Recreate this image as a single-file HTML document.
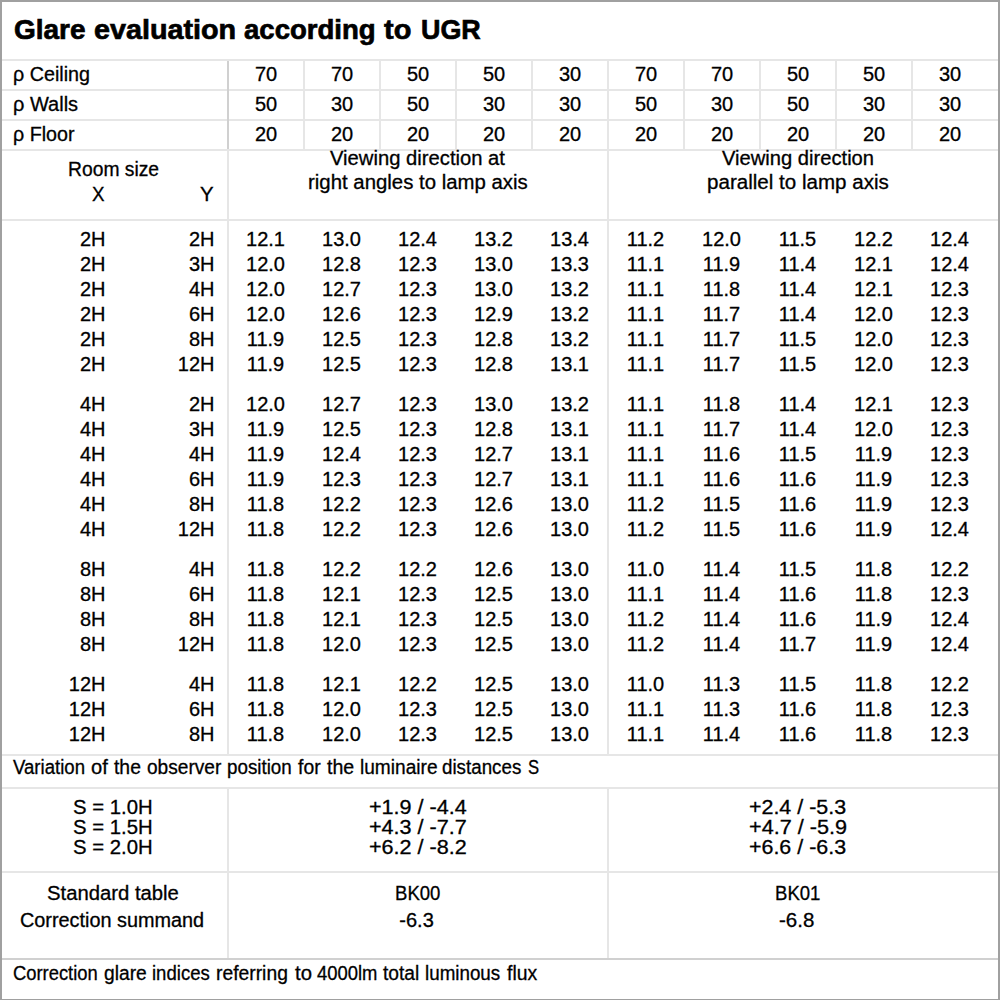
<!DOCTYPE html>
<html><head><meta charset="utf-8"><style>
html,body{margin:0;padding:0;background:#fff;}
body{width:1000px;height:1000px;position:relative;overflow:hidden;font-family:"Liberation Sans",sans-serif;color:#000;}
.ln{position:absolute;}
.t{position:absolute;white-space:nowrap;transform-origin:0 0;-webkit-text-stroke:0.3px #000;}
.bt{position:absolute;left:0;top:0;width:1000px;height:2px;background:#a0a0a0}
.bl{position:absolute;left:0;top:0;width:2px;height:1000px;background:#a0a0a0}
.br{position:absolute;left:998px;top:0;width:2px;height:1000px;background:#a0a0a0}
.bb{position:absolute;left:0;top:999px;width:1000px;height:1px;background:#a0a0a0}
</style></head><body>
<div class="ln" style="left:2px;top:59px;width:996px;height:2px;background:#e6e6e6"></div><div class="ln" style="left:2px;top:89px;width:996px;height:2px;background:#e6e6e6"></div><div class="ln" style="left:2px;top:119px;width:996px;height:2px;background:#e6e6e6"></div><div class="ln" style="left:2px;top:149px;width:996px;height:2px;background:#e6e6e6"></div><div class="ln" style="left:2px;top:219px;width:996px;height:2px;background:#e6e6e6"></div><div class="ln" style="left:2px;top:754px;width:996px;height:2px;background:#e6e6e6"></div><div class="ln" style="left:2px;top:787px;width:996px;height:2px;background:#e6e6e6"></div><div class="ln" style="left:2px;top:871px;width:996px;height:2px;background:#e6e6e6"></div><div class="ln" style="left:2px;top:958px;width:996px;height:2px;background:#d0d0d0"></div><div class="ln" style="left:227px;top:61px;width:2px;height:88px;background:#d0d0d0"></div><div class="ln" style="left:227px;top:151px;width:2px;height:603px;background:#e6e6e6"></div><div class="ln" style="left:607px;top:151px;width:2px;height:603px;background:#e6e6e6"></div><div class="ln" style="left:303px;top:61px;width:2px;height:88px;background:#e6e6e6"></div><div class="ln" style="left:379px;top:61px;width:2px;height:88px;background:#e6e6e6"></div><div class="ln" style="left:455px;top:61px;width:2px;height:88px;background:#e6e6e6"></div><div class="ln" style="left:531px;top:61px;width:2px;height:88px;background:#e6e6e6"></div><div class="ln" style="left:607px;top:61px;width:2px;height:88px;background:#e6e6e6"></div><div class="ln" style="left:683px;top:61px;width:2px;height:88px;background:#e6e6e6"></div><div class="ln" style="left:759px;top:61px;width:2px;height:88px;background:#e6e6e6"></div><div class="ln" style="left:835px;top:61px;width:2px;height:88px;background:#e6e6e6"></div><div class="ln" style="left:911px;top:61px;width:2px;height:88px;background:#e6e6e6"></div><div class="ln" style="left:227px;top:789px;width:2px;height:169px;background:#e6e6e6"></div><div class="ln" style="left:607px;top:789px;width:2px;height:169px;background:#e6e6e6"></div>
<div class="bt"></div><div class="bl"></div><div class="br"></div><div class="bb"></div>
<div class="t" id="title0" style="left:13.99px;top:16px;font-size:28px;line-height:28px;font-weight:bold;-webkit-text-stroke:0.7px #000;">Glare</div>
<div class="t" id="title1" style="left:93.78px;transform:scaleX(1.0266);top:16px;font-size:28px;line-height:28px;font-weight:bold;-webkit-text-stroke:0.7px #000;">evaluation</div>
<div class="t" id="title2" style="left:244.42px;transform:scaleX(0.984);top:16px;font-size:28px;line-height:28px;font-weight:bold;-webkit-text-stroke:0.7px #000;">according</div>
<div class="t" id="title3" style="left:384.26px;transform:scaleX(1.0343);top:16px;font-size:28px;line-height:28px;font-weight:bold;-webkit-text-stroke:0.7px #000;">to</div>
<div class="t" id="title4" style="left:420.84px;transform:scaleX(0.9609);top:16px;font-size:28px;line-height:28px;font-weight:bold;-webkit-text-stroke:0.7px #000;">UGR</div>
<div class="t" id="rc" style="left:13.01px;transform:scaleX(0.9868);top:64px;font-size:20px;line-height:20px;">ρ Ceiling</div>
<div class="t" id="rw" style="left:13.0px;top:94px;font-size:20px;line-height:20px;">ρ Walls</div>
<div class="t" id="rf" style="left:13.02px;transform:scaleX(0.9845);top:124px;font-size:20px;line-height:20px;">ρ Floor</div>
<div class="t" id="k8" style="left:254.88px;top:64px;font-size:20px;line-height:20px;">70</div>
<div class="t" id="k9" style="left:330.88px;top:64px;font-size:20px;line-height:20px;">70</div>
<div class="t" id="k10" style="left:406.88px;top:64px;font-size:20px;line-height:20px;">50</div>
<div class="t" id="k11" style="left:482.88px;top:64px;font-size:20px;line-height:20px;">50</div>
<div class="t" id="k12" style="left:558.88px;top:64px;font-size:20px;line-height:20px;">30</div>
<div class="t" id="k13" style="left:634.88px;top:64px;font-size:20px;line-height:20px;">70</div>
<div class="t" id="k14" style="left:710.88px;top:64px;font-size:20px;line-height:20px;">70</div>
<div class="t" id="k15" style="left:786.88px;top:64px;font-size:20px;line-height:20px;">50</div>
<div class="t" id="k16" style="left:862.88px;top:64px;font-size:20px;line-height:20px;">50</div>
<div class="t" id="k17" style="left:938.88px;top:64px;font-size:20px;line-height:20px;">30</div>
<div class="t" id="k18" style="left:254.88px;top:94px;font-size:20px;line-height:20px;">50</div>
<div class="t" id="k19" style="left:330.88px;top:94px;font-size:20px;line-height:20px;">30</div>
<div class="t" id="k20" style="left:406.88px;top:94px;font-size:20px;line-height:20px;">50</div>
<div class="t" id="k21" style="left:482.88px;top:94px;font-size:20px;line-height:20px;">30</div>
<div class="t" id="k22" style="left:558.88px;top:94px;font-size:20px;line-height:20px;">30</div>
<div class="t" id="k23" style="left:634.88px;top:94px;font-size:20px;line-height:20px;">50</div>
<div class="t" id="k24" style="left:710.88px;top:94px;font-size:20px;line-height:20px;">30</div>
<div class="t" id="k25" style="left:786.88px;top:94px;font-size:20px;line-height:20px;">50</div>
<div class="t" id="k26" style="left:862.88px;top:94px;font-size:20px;line-height:20px;">30</div>
<div class="t" id="k27" style="left:938.88px;top:94px;font-size:20px;line-height:20px;">30</div>
<div class="t" id="k28" style="left:254.88px;top:124px;font-size:20px;line-height:20px;">20</div>
<div class="t" id="k29" style="left:330.88px;top:124px;font-size:20px;line-height:20px;">20</div>
<div class="t" id="k30" style="left:406.88px;top:124px;font-size:20px;line-height:20px;">20</div>
<div class="t" id="k31" style="left:482.88px;top:124px;font-size:20px;line-height:20px;">20</div>
<div class="t" id="k32" style="left:558.88px;top:124px;font-size:20px;line-height:20px;">20</div>
<div class="t" id="k33" style="left:634.88px;top:124px;font-size:20px;line-height:20px;">20</div>
<div class="t" id="k34" style="left:710.88px;top:124px;font-size:20px;line-height:20px;">20</div>
<div class="t" id="k35" style="left:786.88px;top:124px;font-size:20px;line-height:20px;">20</div>
<div class="t" id="k36" style="left:862.88px;top:124px;font-size:20px;line-height:20px;">20</div>
<div class="t" id="k37" style="left:938.88px;top:124px;font-size:20px;line-height:20px;">20</div>
<div class="t" id="room" style="left:67.62px;transform:scaleX(0.9643);top:159px;font-size:20px;line-height:20px;">Room size</div>
<div class="t" id="hx" style="left:91.73px;transform:scaleX(0.9387);top:184px;font-size:20px;line-height:20px;">X</div>
<div class="t" id="hy" style="left:199.87px;transform:scaleX(1.0216);top:184px;font-size:20px;line-height:20px;">Y</div>
<div class="t" id="v1" style="left:330.15px;transform:scaleX(1.0111);top:148px;font-size:20px;line-height:20px;">Viewing direction at</div>
<div class="t" id="v2" style="left:308.14px;transform:scaleX(1.0187);top:172px;font-size:20px;line-height:20px;">right angles to lamp axis</div>
<div class="t" id="v3" style="left:722.37px;transform:scaleX(1.008);top:148px;font-size:20px;line-height:20px;">Viewing direction</div>
<div class="t" id="v4" style="left:706.59px;transform:scaleX(1.0286);top:172px;font-size:20px;line-height:20px;">parallel to lamp axis</div>
<div class="t" id="k45" style="left:79.92px;top:229px;font-size:20px;line-height:20px;">2H</div>
<div class="t" id="k46" style="left:188.92px;top:229px;font-size:20px;line-height:20px;">2H</div>
<div class="t" id="k47" style="left:246.03px;top:229px;font-size:20px;line-height:20px;">12.1</div>
<div class="t" id="k48" style="left:322.03px;top:229px;font-size:20px;line-height:20px;">13.0</div>
<div class="t" id="k49" style="left:398.03px;top:229px;font-size:20px;line-height:20px;">12.4</div>
<div class="t" id="k50" style="left:474.03px;top:229px;font-size:20px;line-height:20px;">13.2</div>
<div class="t" id="k51" style="left:550.03px;top:229px;font-size:20px;line-height:20px;">13.4</div>
<div class="t" id="k52" style="left:626.77px;top:229px;font-size:20px;line-height:20px;">11.2</div>
<div class="t" id="k53" style="left:702.03px;top:229px;font-size:20px;line-height:20px;">12.0</div>
<div class="t" id="k54" style="left:778.77px;top:229px;font-size:20px;line-height:20px;">11.5</div>
<div class="t" id="k55" style="left:854.03px;top:229px;font-size:20px;line-height:20px;">12.2</div>
<div class="t" id="k56" style="left:930.03px;top:229px;font-size:20px;line-height:20px;">12.4</div>
<div class="t" id="k57" style="left:79.92px;top:254px;font-size:20px;line-height:20px;">2H</div>
<div class="t" id="k58" style="left:188.92px;top:254px;font-size:20px;line-height:20px;">3H</div>
<div class="t" id="k59" style="left:246.03px;top:254px;font-size:20px;line-height:20px;">12.0</div>
<div class="t" id="k60" style="left:322.03px;top:254px;font-size:20px;line-height:20px;">12.8</div>
<div class="t" id="k61" style="left:398.03px;top:254px;font-size:20px;line-height:20px;">12.3</div>
<div class="t" id="k62" style="left:474.03px;top:254px;font-size:20px;line-height:20px;">13.0</div>
<div class="t" id="k63" style="left:550.03px;top:254px;font-size:20px;line-height:20px;">13.3</div>
<div class="t" id="k64" style="left:626.77px;top:254px;font-size:20px;line-height:20px;">11.1</div>
<div class="t" id="k65" style="left:702.77px;top:254px;font-size:20px;line-height:20px;">11.9</div>
<div class="t" id="k66" style="left:778.77px;top:254px;font-size:20px;line-height:20px;">11.4</div>
<div class="t" id="k67" style="left:854.03px;top:254px;font-size:20px;line-height:20px;">12.1</div>
<div class="t" id="k68" style="left:930.03px;top:254px;font-size:20px;line-height:20px;">12.4</div>
<div class="t" id="k69" style="left:79.92px;top:279px;font-size:20px;line-height:20px;">2H</div>
<div class="t" id="k70" style="left:188.92px;top:279px;font-size:20px;line-height:20px;">4H</div>
<div class="t" id="k71" style="left:246.03px;top:279px;font-size:20px;line-height:20px;">12.0</div>
<div class="t" id="k72" style="left:322.03px;top:279px;font-size:20px;line-height:20px;">12.7</div>
<div class="t" id="k73" style="left:398.03px;top:279px;font-size:20px;line-height:20px;">12.3</div>
<div class="t" id="k74" style="left:474.03px;top:279px;font-size:20px;line-height:20px;">13.0</div>
<div class="t" id="k75" style="left:550.03px;top:279px;font-size:20px;line-height:20px;">13.2</div>
<div class="t" id="k76" style="left:626.77px;top:279px;font-size:20px;line-height:20px;">11.1</div>
<div class="t" id="k77" style="left:702.77px;top:279px;font-size:20px;line-height:20px;">11.8</div>
<div class="t" id="k78" style="left:778.77px;top:279px;font-size:20px;line-height:20px;">11.4</div>
<div class="t" id="k79" style="left:854.03px;top:279px;font-size:20px;line-height:20px;">12.1</div>
<div class="t" id="k80" style="left:930.03px;top:279px;font-size:20px;line-height:20px;">12.3</div>
<div class="t" id="k81" style="left:79.92px;top:304px;font-size:20px;line-height:20px;">2H</div>
<div class="t" id="k82" style="left:188.92px;top:304px;font-size:20px;line-height:20px;">6H</div>
<div class="t" id="k83" style="left:246.03px;top:304px;font-size:20px;line-height:20px;">12.0</div>
<div class="t" id="k84" style="left:322.03px;top:304px;font-size:20px;line-height:20px;">12.6</div>
<div class="t" id="k85" style="left:398.03px;top:304px;font-size:20px;line-height:20px;">12.3</div>
<div class="t" id="k86" style="left:474.03px;top:304px;font-size:20px;line-height:20px;">12.9</div>
<div class="t" id="k87" style="left:550.03px;top:304px;font-size:20px;line-height:20px;">13.2</div>
<div class="t" id="k88" style="left:626.77px;top:304px;font-size:20px;line-height:20px;">11.1</div>
<div class="t" id="k89" style="left:702.77px;top:304px;font-size:20px;line-height:20px;">11.7</div>
<div class="t" id="k90" style="left:778.77px;top:304px;font-size:20px;line-height:20px;">11.4</div>
<div class="t" id="k91" style="left:854.03px;top:304px;font-size:20px;line-height:20px;">12.0</div>
<div class="t" id="k92" style="left:930.03px;top:304px;font-size:20px;line-height:20px;">12.3</div>
<div class="t" id="k93" style="left:79.92px;top:329px;font-size:20px;line-height:20px;">2H</div>
<div class="t" id="k94" style="left:188.92px;top:329px;font-size:20px;line-height:20px;">8H</div>
<div class="t" id="k95" style="left:246.77px;top:329px;font-size:20px;line-height:20px;">11.9</div>
<div class="t" id="k96" style="left:322.03px;top:329px;font-size:20px;line-height:20px;">12.5</div>
<div class="t" id="k97" style="left:398.03px;top:329px;font-size:20px;line-height:20px;">12.3</div>
<div class="t" id="k98" style="left:474.03px;top:329px;font-size:20px;line-height:20px;">12.8</div>
<div class="t" id="k99" style="left:550.03px;top:329px;font-size:20px;line-height:20px;">13.2</div>
<div class="t" id="k100" style="left:626.77px;top:329px;font-size:20px;line-height:20px;">11.1</div>
<div class="t" id="k101" style="left:702.77px;top:329px;font-size:20px;line-height:20px;">11.7</div>
<div class="t" id="k102" style="left:778.77px;top:329px;font-size:20px;line-height:20px;">11.5</div>
<div class="t" id="k103" style="left:854.03px;top:329px;font-size:20px;line-height:20px;">12.0</div>
<div class="t" id="k104" style="left:930.03px;top:329px;font-size:20px;line-height:20px;">12.3</div>
<div class="t" id="k105" style="left:79.92px;top:354px;font-size:20px;line-height:20px;">2H</div>
<div class="t" id="k106" style="left:177.8px;top:354px;font-size:20px;line-height:20px;">12H</div>
<div class="t" id="k107" style="left:246.77px;top:354px;font-size:20px;line-height:20px;">11.9</div>
<div class="t" id="k108" style="left:322.03px;top:354px;font-size:20px;line-height:20px;">12.5</div>
<div class="t" id="k109" style="left:398.03px;top:354px;font-size:20px;line-height:20px;">12.3</div>
<div class="t" id="k110" style="left:474.03px;top:354px;font-size:20px;line-height:20px;">12.8</div>
<div class="t" id="k111" style="left:550.03px;top:354px;font-size:20px;line-height:20px;">13.1</div>
<div class="t" id="k112" style="left:626.77px;top:354px;font-size:20px;line-height:20px;">11.1</div>
<div class="t" id="k113" style="left:702.77px;top:354px;font-size:20px;line-height:20px;">11.7</div>
<div class="t" id="k114" style="left:778.77px;top:354px;font-size:20px;line-height:20px;">11.5</div>
<div class="t" id="k115" style="left:854.03px;top:354px;font-size:20px;line-height:20px;">12.0</div>
<div class="t" id="k116" style="left:930.03px;top:354px;font-size:20px;line-height:20px;">12.3</div>
<div class="t" id="k117" style="left:79.92px;top:394px;font-size:20px;line-height:20px;">4H</div>
<div class="t" id="k118" style="left:188.92px;top:394px;font-size:20px;line-height:20px;">2H</div>
<div class="t" id="k119" style="left:246.03px;top:394px;font-size:20px;line-height:20px;">12.0</div>
<div class="t" id="k120" style="left:322.03px;top:394px;font-size:20px;line-height:20px;">12.7</div>
<div class="t" id="k121" style="left:398.03px;top:394px;font-size:20px;line-height:20px;">12.3</div>
<div class="t" id="k122" style="left:474.03px;top:394px;font-size:20px;line-height:20px;">13.0</div>
<div class="t" id="k123" style="left:550.03px;top:394px;font-size:20px;line-height:20px;">13.2</div>
<div class="t" id="k124" style="left:626.77px;top:394px;font-size:20px;line-height:20px;">11.1</div>
<div class="t" id="k125" style="left:702.77px;top:394px;font-size:20px;line-height:20px;">11.8</div>
<div class="t" id="k126" style="left:778.77px;top:394px;font-size:20px;line-height:20px;">11.4</div>
<div class="t" id="k127" style="left:854.03px;top:394px;font-size:20px;line-height:20px;">12.1</div>
<div class="t" id="k128" style="left:930.03px;top:394px;font-size:20px;line-height:20px;">12.3</div>
<div class="t" id="k129" style="left:79.92px;top:419px;font-size:20px;line-height:20px;">4H</div>
<div class="t" id="k130" style="left:188.92px;top:419px;font-size:20px;line-height:20px;">3H</div>
<div class="t" id="k131" style="left:246.77px;top:419px;font-size:20px;line-height:20px;">11.9</div>
<div class="t" id="k132" style="left:322.03px;top:419px;font-size:20px;line-height:20px;">12.5</div>
<div class="t" id="k133" style="left:398.03px;top:419px;font-size:20px;line-height:20px;">12.3</div>
<div class="t" id="k134" style="left:474.03px;top:419px;font-size:20px;line-height:20px;">12.8</div>
<div class="t" id="k135" style="left:550.03px;top:419px;font-size:20px;line-height:20px;">13.1</div>
<div class="t" id="k136" style="left:626.77px;top:419px;font-size:20px;line-height:20px;">11.1</div>
<div class="t" id="k137" style="left:702.77px;top:419px;font-size:20px;line-height:20px;">11.7</div>
<div class="t" id="k138" style="left:778.77px;top:419px;font-size:20px;line-height:20px;">11.4</div>
<div class="t" id="k139" style="left:854.03px;top:419px;font-size:20px;line-height:20px;">12.0</div>
<div class="t" id="k140" style="left:930.03px;top:419px;font-size:20px;line-height:20px;">12.3</div>
<div class="t" id="k141" style="left:79.92px;top:444px;font-size:20px;line-height:20px;">4H</div>
<div class="t" id="k142" style="left:188.92px;top:444px;font-size:20px;line-height:20px;">4H</div>
<div class="t" id="k143" style="left:246.77px;top:444px;font-size:20px;line-height:20px;">11.9</div>
<div class="t" id="k144" style="left:322.03px;top:444px;font-size:20px;line-height:20px;">12.4</div>
<div class="t" id="k145" style="left:398.03px;top:444px;font-size:20px;line-height:20px;">12.3</div>
<div class="t" id="k146" style="left:474.03px;top:444px;font-size:20px;line-height:20px;">12.7</div>
<div class="t" id="k147" style="left:550.03px;top:444px;font-size:20px;line-height:20px;">13.1</div>
<div class="t" id="k148" style="left:626.77px;top:444px;font-size:20px;line-height:20px;">11.1</div>
<div class="t" id="k149" style="left:702.77px;top:444px;font-size:20px;line-height:20px;">11.6</div>
<div class="t" id="k150" style="left:778.77px;top:444px;font-size:20px;line-height:20px;">11.5</div>
<div class="t" id="k151" style="left:854.77px;top:444px;font-size:20px;line-height:20px;">11.9</div>
<div class="t" id="k152" style="left:930.03px;top:444px;font-size:20px;line-height:20px;">12.3</div>
<div class="t" id="k153" style="left:79.92px;top:469px;font-size:20px;line-height:20px;">4H</div>
<div class="t" id="k154" style="left:188.92px;top:469px;font-size:20px;line-height:20px;">6H</div>
<div class="t" id="k155" style="left:246.77px;top:469px;font-size:20px;line-height:20px;">11.9</div>
<div class="t" id="k156" style="left:322.03px;top:469px;font-size:20px;line-height:20px;">12.3</div>
<div class="t" id="k157" style="left:398.03px;top:469px;font-size:20px;line-height:20px;">12.3</div>
<div class="t" id="k158" style="left:474.03px;top:469px;font-size:20px;line-height:20px;">12.7</div>
<div class="t" id="k159" style="left:550.03px;top:469px;font-size:20px;line-height:20px;">13.1</div>
<div class="t" id="k160" style="left:626.77px;top:469px;font-size:20px;line-height:20px;">11.1</div>
<div class="t" id="k161" style="left:702.77px;top:469px;font-size:20px;line-height:20px;">11.6</div>
<div class="t" id="k162" style="left:778.77px;top:469px;font-size:20px;line-height:20px;">11.6</div>
<div class="t" id="k163" style="left:854.77px;top:469px;font-size:20px;line-height:20px;">11.9</div>
<div class="t" id="k164" style="left:930.03px;top:469px;font-size:20px;line-height:20px;">12.3</div>
<div class="t" id="k165" style="left:79.92px;top:494px;font-size:20px;line-height:20px;">4H</div>
<div class="t" id="k166" style="left:188.92px;top:494px;font-size:20px;line-height:20px;">8H</div>
<div class="t" id="k167" style="left:246.77px;top:494px;font-size:20px;line-height:20px;">11.8</div>
<div class="t" id="k168" style="left:322.03px;top:494px;font-size:20px;line-height:20px;">12.2</div>
<div class="t" id="k169" style="left:398.03px;top:494px;font-size:20px;line-height:20px;">12.3</div>
<div class="t" id="k170" style="left:474.03px;top:494px;font-size:20px;line-height:20px;">12.6</div>
<div class="t" id="k171" style="left:550.03px;top:494px;font-size:20px;line-height:20px;">13.0</div>
<div class="t" id="k172" style="left:626.77px;top:494px;font-size:20px;line-height:20px;">11.2</div>
<div class="t" id="k173" style="left:702.77px;top:494px;font-size:20px;line-height:20px;">11.5</div>
<div class="t" id="k174" style="left:778.77px;top:494px;font-size:20px;line-height:20px;">11.6</div>
<div class="t" id="k175" style="left:854.77px;top:494px;font-size:20px;line-height:20px;">11.9</div>
<div class="t" id="k176" style="left:930.03px;top:494px;font-size:20px;line-height:20px;">12.3</div>
<div class="t" id="k177" style="left:79.92px;top:519px;font-size:20px;line-height:20px;">4H</div>
<div class="t" id="k178" style="left:177.8px;top:519px;font-size:20px;line-height:20px;">12H</div>
<div class="t" id="k179" style="left:246.77px;top:519px;font-size:20px;line-height:20px;">11.8</div>
<div class="t" id="k180" style="left:322.03px;top:519px;font-size:20px;line-height:20px;">12.2</div>
<div class="t" id="k181" style="left:398.03px;top:519px;font-size:20px;line-height:20px;">12.3</div>
<div class="t" id="k182" style="left:474.03px;top:519px;font-size:20px;line-height:20px;">12.6</div>
<div class="t" id="k183" style="left:550.03px;top:519px;font-size:20px;line-height:20px;">13.0</div>
<div class="t" id="k184" style="left:626.77px;top:519px;font-size:20px;line-height:20px;">11.2</div>
<div class="t" id="k185" style="left:702.77px;top:519px;font-size:20px;line-height:20px;">11.5</div>
<div class="t" id="k186" style="left:778.77px;top:519px;font-size:20px;line-height:20px;">11.6</div>
<div class="t" id="k187" style="left:854.77px;top:519px;font-size:20px;line-height:20px;">11.9</div>
<div class="t" id="k188" style="left:930.03px;top:519px;font-size:20px;line-height:20px;">12.4</div>
<div class="t" id="k189" style="left:79.92px;top:559px;font-size:20px;line-height:20px;">8H</div>
<div class="t" id="k190" style="left:188.92px;top:559px;font-size:20px;line-height:20px;">4H</div>
<div class="t" id="k191" style="left:246.77px;top:559px;font-size:20px;line-height:20px;">11.8</div>
<div class="t" id="k192" style="left:322.03px;top:559px;font-size:20px;line-height:20px;">12.2</div>
<div class="t" id="k193" style="left:398.03px;top:559px;font-size:20px;line-height:20px;">12.2</div>
<div class="t" id="k194" style="left:474.03px;top:559px;font-size:20px;line-height:20px;">12.6</div>
<div class="t" id="k195" style="left:550.03px;top:559px;font-size:20px;line-height:20px;">13.0</div>
<div class="t" id="k196" style="left:626.77px;top:559px;font-size:20px;line-height:20px;">11.0</div>
<div class="t" id="k197" style="left:702.77px;top:559px;font-size:20px;line-height:20px;">11.4</div>
<div class="t" id="k198" style="left:778.77px;top:559px;font-size:20px;line-height:20px;">11.5</div>
<div class="t" id="k199" style="left:854.77px;top:559px;font-size:20px;line-height:20px;">11.8</div>
<div class="t" id="k200" style="left:930.03px;top:559px;font-size:20px;line-height:20px;">12.2</div>
<div class="t" id="k201" style="left:79.92px;top:584px;font-size:20px;line-height:20px;">8H</div>
<div class="t" id="k202" style="left:188.92px;top:584px;font-size:20px;line-height:20px;">6H</div>
<div class="t" id="k203" style="left:246.77px;top:584px;font-size:20px;line-height:20px;">11.8</div>
<div class="t" id="k204" style="left:322.03px;top:584px;font-size:20px;line-height:20px;">12.1</div>
<div class="t" id="k205" style="left:398.03px;top:584px;font-size:20px;line-height:20px;">12.3</div>
<div class="t" id="k206" style="left:474.03px;top:584px;font-size:20px;line-height:20px;">12.5</div>
<div class="t" id="k207" style="left:550.03px;top:584px;font-size:20px;line-height:20px;">13.0</div>
<div class="t" id="k208" style="left:626.77px;top:584px;font-size:20px;line-height:20px;">11.1</div>
<div class="t" id="k209" style="left:702.77px;top:584px;font-size:20px;line-height:20px;">11.4</div>
<div class="t" id="k210" style="left:778.77px;top:584px;font-size:20px;line-height:20px;">11.6</div>
<div class="t" id="k211" style="left:854.77px;top:584px;font-size:20px;line-height:20px;">11.8</div>
<div class="t" id="k212" style="left:930.03px;top:584px;font-size:20px;line-height:20px;">12.3</div>
<div class="t" id="k213" style="left:79.92px;top:609px;font-size:20px;line-height:20px;">8H</div>
<div class="t" id="k214" style="left:188.92px;top:609px;font-size:20px;line-height:20px;">8H</div>
<div class="t" id="k215" style="left:246.77px;top:609px;font-size:20px;line-height:20px;">11.8</div>
<div class="t" id="k216" style="left:322.03px;top:609px;font-size:20px;line-height:20px;">12.1</div>
<div class="t" id="k217" style="left:398.03px;top:609px;font-size:20px;line-height:20px;">12.3</div>
<div class="t" id="k218" style="left:474.03px;top:609px;font-size:20px;line-height:20px;">12.5</div>
<div class="t" id="k219" style="left:550.03px;top:609px;font-size:20px;line-height:20px;">13.0</div>
<div class="t" id="k220" style="left:626.77px;top:609px;font-size:20px;line-height:20px;">11.2</div>
<div class="t" id="k221" style="left:702.77px;top:609px;font-size:20px;line-height:20px;">11.4</div>
<div class="t" id="k222" style="left:778.77px;top:609px;font-size:20px;line-height:20px;">11.6</div>
<div class="t" id="k223" style="left:854.77px;top:609px;font-size:20px;line-height:20px;">11.9</div>
<div class="t" id="k224" style="left:930.03px;top:609px;font-size:20px;line-height:20px;">12.4</div>
<div class="t" id="k225" style="left:79.92px;top:634px;font-size:20px;line-height:20px;">8H</div>
<div class="t" id="k226" style="left:177.8px;top:634px;font-size:20px;line-height:20px;">12H</div>
<div class="t" id="k227" style="left:246.77px;top:634px;font-size:20px;line-height:20px;">11.8</div>
<div class="t" id="k228" style="left:322.03px;top:634px;font-size:20px;line-height:20px;">12.0</div>
<div class="t" id="k229" style="left:398.03px;top:634px;font-size:20px;line-height:20px;">12.3</div>
<div class="t" id="k230" style="left:474.03px;top:634px;font-size:20px;line-height:20px;">12.5</div>
<div class="t" id="k231" style="left:550.03px;top:634px;font-size:20px;line-height:20px;">13.0</div>
<div class="t" id="k232" style="left:626.77px;top:634px;font-size:20px;line-height:20px;">11.2</div>
<div class="t" id="k233" style="left:702.77px;top:634px;font-size:20px;line-height:20px;">11.4</div>
<div class="t" id="k234" style="left:778.77px;top:634px;font-size:20px;line-height:20px;">11.7</div>
<div class="t" id="k235" style="left:854.77px;top:634px;font-size:20px;line-height:20px;">11.9</div>
<div class="t" id="k236" style="left:930.03px;top:634px;font-size:20px;line-height:20px;">12.4</div>
<div class="t" id="k237" style="left:68.8px;top:674px;font-size:20px;line-height:20px;">12H</div>
<div class="t" id="k238" style="left:188.92px;top:674px;font-size:20px;line-height:20px;">4H</div>
<div class="t" id="k239" style="left:246.77px;top:674px;font-size:20px;line-height:20px;">11.8</div>
<div class="t" id="k240" style="left:322.03px;top:674px;font-size:20px;line-height:20px;">12.1</div>
<div class="t" id="k241" style="left:398.03px;top:674px;font-size:20px;line-height:20px;">12.2</div>
<div class="t" id="k242" style="left:474.03px;top:674px;font-size:20px;line-height:20px;">12.5</div>
<div class="t" id="k243" style="left:550.03px;top:674px;font-size:20px;line-height:20px;">13.0</div>
<div class="t" id="k244" style="left:626.77px;top:674px;font-size:20px;line-height:20px;">11.0</div>
<div class="t" id="k245" style="left:702.77px;top:674px;font-size:20px;line-height:20px;">11.3</div>
<div class="t" id="k246" style="left:778.77px;top:674px;font-size:20px;line-height:20px;">11.5</div>
<div class="t" id="k247" style="left:854.77px;top:674px;font-size:20px;line-height:20px;">11.8</div>
<div class="t" id="k248" style="left:930.03px;top:674px;font-size:20px;line-height:20px;">12.2</div>
<div class="t" id="k249" style="left:68.8px;top:699px;font-size:20px;line-height:20px;">12H</div>
<div class="t" id="k250" style="left:188.92px;top:699px;font-size:20px;line-height:20px;">6H</div>
<div class="t" id="k251" style="left:246.77px;top:699px;font-size:20px;line-height:20px;">11.8</div>
<div class="t" id="k252" style="left:322.03px;top:699px;font-size:20px;line-height:20px;">12.0</div>
<div class="t" id="k253" style="left:398.03px;top:699px;font-size:20px;line-height:20px;">12.3</div>
<div class="t" id="k254" style="left:474.03px;top:699px;font-size:20px;line-height:20px;">12.5</div>
<div class="t" id="k255" style="left:550.03px;top:699px;font-size:20px;line-height:20px;">13.0</div>
<div class="t" id="k256" style="left:626.77px;top:699px;font-size:20px;line-height:20px;">11.1</div>
<div class="t" id="k257" style="left:702.77px;top:699px;font-size:20px;line-height:20px;">11.3</div>
<div class="t" id="k258" style="left:778.77px;top:699px;font-size:20px;line-height:20px;">11.6</div>
<div class="t" id="k259" style="left:854.77px;top:699px;font-size:20px;line-height:20px;">11.8</div>
<div class="t" id="k260" style="left:930.03px;top:699px;font-size:20px;line-height:20px;">12.3</div>
<div class="t" id="k261" style="left:68.8px;top:724px;font-size:20px;line-height:20px;">12H</div>
<div class="t" id="k262" style="left:188.92px;top:724px;font-size:20px;line-height:20px;">8H</div>
<div class="t" id="k263" style="left:246.77px;top:724px;font-size:20px;line-height:20px;">11.8</div>
<div class="t" id="k264" style="left:322.03px;top:724px;font-size:20px;line-height:20px;">12.0</div>
<div class="t" id="k265" style="left:398.03px;top:724px;font-size:20px;line-height:20px;">12.3</div>
<div class="t" id="k266" style="left:474.03px;top:724px;font-size:20px;line-height:20px;">12.5</div>
<div class="t" id="k267" style="left:550.03px;top:724px;font-size:20px;line-height:20px;">13.0</div>
<div class="t" id="k268" style="left:626.77px;top:724px;font-size:20px;line-height:20px;">11.1</div>
<div class="t" id="k269" style="left:702.77px;top:724px;font-size:20px;line-height:20px;">11.4</div>
<div class="t" id="k270" style="left:778.77px;top:724px;font-size:20px;line-height:20px;">11.6</div>
<div class="t" id="k271" style="left:854.77px;top:724px;font-size:20px;line-height:20px;">11.8</div>
<div class="t" id="k272" style="left:930.03px;top:724px;font-size:20px;line-height:20px;">12.3</div>
<div class="t" id="var0" style="left:13.16px;transform:scaleX(0.9293);top:757px;font-size:20px;line-height:20px;">Variation</div>
<div class="t" id="var1" style="left:90.96px;transform:scaleX(1.0054);top:757px;font-size:20px;line-height:20px;">of</div>
<div class="t" id="var2" style="left:114.47px;transform:scaleX(0.9672);top:757px;font-size:20px;line-height:20px;">the</div>
<div class="t" id="var3" style="left:146.72px;transform:scaleX(0.955);top:757px;font-size:20px;line-height:20px;">observer</div>
<div class="t" id="var4" style="left:226.76px;transform:scaleX(0.939);top:757px;font-size:20px;line-height:20px;">position</div>
<div class="t" id="var5" style="left:297.53px;transform:scaleX(0.968);top:757px;font-size:20px;line-height:20px;">for</div>
<div class="t" id="var6" style="left:327.49px;transform:scaleX(0.9783);top:757px;font-size:20px;line-height:20px;">the</div>
<div class="t" id="var7" style="left:360.03px;transform:scaleX(0.9551);top:757px;font-size:20px;line-height:20px;">luminaire</div>
<div class="t" id="var8" style="left:441.74px;transform:scaleX(0.9389);top:757px;font-size:20px;line-height:20px;">distances</div>
<div class="t" id="var9" style="left:527.7px;transform:scaleX(0.8322);top:757px;font-size:20px;line-height:20px;">S</div>
<div class="t" id="s0" style="left:72.88px;transform:scaleX(1.0159);top:797px;font-size:20px;line-height:20px;">S = 1.0H</div>
<div class="t" id="sa0" style="left:368.98px;transform:scaleX(1.0787);top:797px;font-size:20px;line-height:20px;">+1.9 / -4.4</div>
<div class="t" id="sc0" style="left:748.99px;transform:scaleX(1.0709);top:797px;font-size:20px;line-height:20px;">+2.4 / -5.3</div>
<div class="t" id="s1" style="left:72.88px;transform:scaleX(1.0159);top:817px;font-size:20px;line-height:20px;">S = 1.5H</div>
<div class="t" id="sa1" style="left:368.98px;transform:scaleX(1.0787);top:817px;font-size:20px;line-height:20px;">+4.3 / -7.7</div>
<div class="t" id="sc1" style="left:748.98px;transform:scaleX(1.0822);top:817px;font-size:20px;line-height:20px;">+4.7 / -5.9</div>
<div class="t" id="s2" style="left:72.88px;transform:scaleX(1.0159);top:837px;font-size:20px;line-height:20px;">S = 2.0H</div>
<div class="t" id="sa2" style="left:368.98px;transform:scaleX(1.0787);top:837px;font-size:20px;line-height:20px;">+6.2 / -8.2</div>
<div class="t" id="sc2" style="left:748.99px;transform:scaleX(1.0709);top:837px;font-size:20px;line-height:20px;">+6.6 / -6.3</div>
<div class="t" id="std" style="left:46.63px;transform:scaleX(1.0133);top:883px;font-size:20px;line-height:20px;">Standard table</div>
<div class="t" id="cs" style="left:20.39px;transform:scaleX(0.9918);top:910px;font-size:20px;line-height:20px;">Correction summand</div>
<div class="t" id="bk0" style="left:395.02px;transform:scaleX(0.9279);top:883px;font-size:20px;line-height:20px;">BK00</div>
<div class="t" id="m63" style="left:399.33px;top:910px;font-size:20px;line-height:20px;">-6.3</div>
<div class="t" id="bk1" style="left:774.54px;transform:scaleX(0.9279);top:883px;font-size:20px;line-height:20px;">BK01</div>
<div class="t" id="m68" style="left:779.3px;transform:scaleX(1.026);top:910px;font-size:20px;line-height:20px;">-6.8</div>
<div class="t" id="foot0" style="left:12.62px;transform:scaleX(0.9185);top:963px;font-size:20px;line-height:20px;">Correction</div>
<div class="t" id="foot1" style="left:103.57px;transform:scaleX(0.9606);top:963px;font-size:20px;line-height:20px;">glare</div>
<div class="t" id="foot2" style="left:151.6px;transform:scaleX(0.9279);top:963px;font-size:20px;line-height:20px;">indices</div>
<div class="t" id="foot3" style="left:215.59px;transform:scaleX(0.9651);top:963px;font-size:20px;line-height:20px;">referring</div>
<div class="t" id="foot4" style="left:295.48px;transform:scaleX(1.015);top:963px;font-size:20px;line-height:20px;">to</div>
<div class="t" id="foot5" style="left:317.0px;transform:scaleX(0.9205);top:963px;font-size:20px;line-height:20px;">4000lm</div>
<div class="t" id="foot6" style="left:383.01px;transform:scaleX(0.9597);top:963px;font-size:20px;line-height:20px;">total</div>
<div class="t" id="foot7" style="left:425.48px;transform:scaleX(0.9396);top:963px;font-size:20px;line-height:20px;">luminous</div>
<div class="t" id="foot8" style="left:507.14px;transform:scaleX(0.9678);top:963px;font-size:20px;line-height:20px;">flux</div>
</body></html>
